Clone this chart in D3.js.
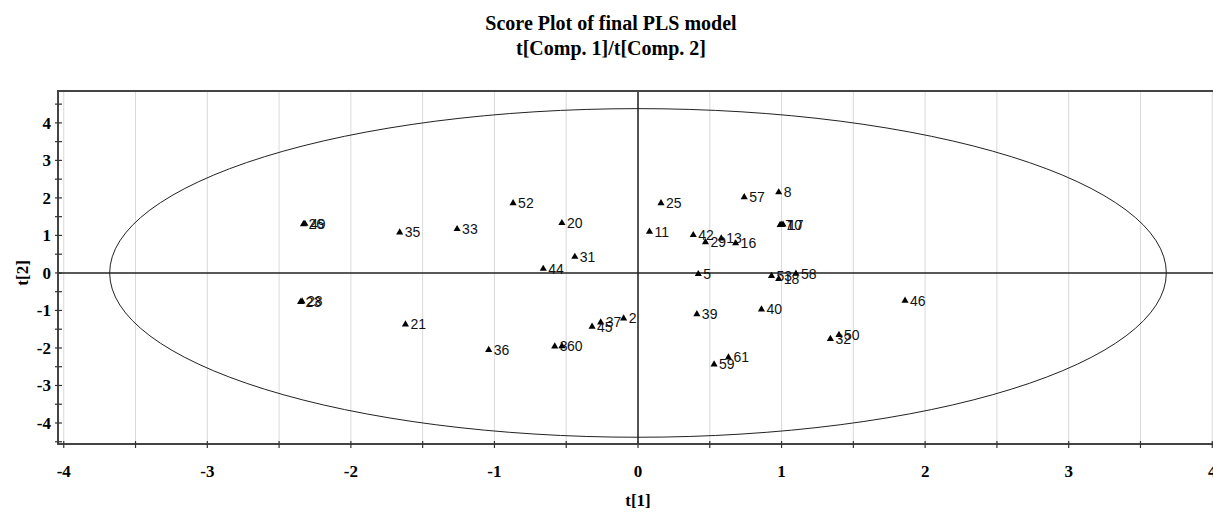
<!DOCTYPE html>
<html><head><meta charset="utf-8">
<script src="https://cdn.jsdelivr.net/npm/d3@7"></script>
<style>body{margin:0;background:#fff}svg{display:block}
.serif{font-family:"Liberation Serif","Times New Roman",serif;font-weight:bold}
.lab{font-family:"Liberation Sans",Arial,sans-serif}</style>
</head><body>
<svg id="c" width="1213" height="515"></svg>
<script>
const labels = ["26","49","35","33","52","20","31","44","23","28","21","36","3","60","45","37","2","25","11","57","8","7","10","17","42","29","13","16","5","53","18","58","39","40","46","32","50","59","61"];
const t1 = [-2.33,-2.32,-1.66,-1.26,-0.87,-0.53,-0.44,-0.66,-2.35,-2.34,-1.62,-1.04,-0.58,-0.53,-0.32,-0.26,-0.10,0.16,0.08,0.74,0.98,0.99,1.00,1.01,0.385,0.47,0.58,0.68,0.42,0.93,0.98,1.10,0.41,0.86,1.86,1.34,1.40,0.53,0.63];
const t2 = [1.30,1.31,1.08,1.17,1.86,1.33,0.43,0.11,-0.77,-0.76,-1.37,-2.05,-1.96,-1.95,-1.43,-1.32,-1.21,1.86,1.10,2.02,2.15,1.28,1.28,1.29,1.01,0.82,0.92,0.79,-0.03,-0.08,-0.16,-0.02,-1.10,-0.97,-0.74,-1.76,-1.65,-2.44,-2.25];
const xTicks = [-4,-3,-2,-1,0,1,2,3,4];
const yTicks = [-4,-3,-2,-1,0,1,2,3,4];
const ellipseR = [3.68, 4.38];

const svg = d3.select("#c");
const L = 58, R = 1218, T = 91, B = 444;
const x = d3.scaleLinear().domain([-4.04, 4.04]).range([L, R]);
const y = d3.scaleLinear().domain([-4.56, 4.85]).range([B, T]);

// grid
const gx = d3.range(-4, 4.01, 0.5);
svg.append("g").selectAll("line").data(gx).join("line")
  .attr("x1", d => x(d)).attr("x2", d => x(d)).attr("y1", T).attr("y2", B)
  .attr("stroke", "#d9d9d9").attr("stroke-width", 1);

// ellipse
svg.append("ellipse").attr("cx", x(0)).attr("cy", y(0))
  .attr("rx", x(ellipseR[0]) - x(0)).attr("ry", y(0) - y(ellipseR[1]))
  .attr("fill", "none").attr("stroke", "#222").attr("stroke-width", 1);

// zero lines
svg.append("line").attr("x1", L).attr("x2", R).attr("y1", y(0)).attr("y2", y(0)).attr("stroke", "#222").attr("stroke-width", 1.5);
svg.append("line").attr("x1", x(0)).attr("x2", x(0)).attr("y1", T).attr("y2", B).attr("stroke", "#222").attr("stroke-width", 1.5);

// frame
svg.append("path").attr("d", `M${R},${T}H${L}V${B}H${R}`).attr("fill", "none").attr("stroke", "#444").attr("stroke-width", 2);

// y ticks
const ym = d3.range(-4.5, 4.51, 0.5);
svg.append("g").selectAll("line").data(ym).join("line")
  .attr("x1", L - 3).attr("x2", L + 4).attr("y1", d => y(d)).attr("y2", d => y(d))
  .attr("stroke", "#333").attr("stroke-width", 1.2);
svg.append("g").selectAll("text").data(yTicks).join("text")
  .attr("class", "serif").attr("font-size", 17)
  .attr("x", 51).attr("y", d => y(d)).attr("dy", "0.35em").attr("text-anchor", "end")
  .text(d => d);
// x ticks
svg.append("g").selectAll("line").data(gx).join("line")
  .attr("x1", d => x(d)).attr("x2", d => x(d)).attr("y1", B - 3).attr("y2", B + 4)
  .attr("stroke", "#333").attr("stroke-width", 1.2);
svg.append("g").selectAll("text").data(xTicks).join("text")
  .attr("class", "serif").attr("font-size", 17)
  .attr("x", d => x(d)).attr("y", 477).attr("text-anchor", "middle")
  .text(d => d);

// axis titles
svg.append("text").attr("class", "serif").attr("font-size", 17)
  .attr("x", x(0)).attr("y", 506).attr("text-anchor", "middle").text("t[1]");
svg.append("text").attr("class", "serif").attr("font-size", 17)
  .attr("transform", `translate(28,${y(0)}) rotate(-90)`).attr("text-anchor", "middle").text("t[2]");

// title
const title = svg.append("text").attr("class", "serif").attr("text-anchor", "middle").attr("font-size", 20);
title.append("tspan").attr("x", 611).attr("y", 30).text("Score Plot of final PLS model");
title.append("tspan").attr("x", 611).attr("y", 55).text("t[Comp. 1]/t[Comp. 2]");

// points
const pts = labels.map((l, i) => ({l, a: t1[i], b: t2[i]}));
const tri = d3.symbol().type(d3.symbolTriangle).size(22);
const pg = svg.append("g");
pg.selectAll("path").data(pts).join("path")
  .attr("d", tri).attr("transform", d => `translate(${x(d.a)},${y(d.b)})`).attr("fill", "#000");
pg.selectAll("text").data(pts).join("text")
  .attr("class", "lab").attr("font-size", 14).attr("fill", "#111")
  .attr("x", d => x(d.a) + 5).attr("y", d => y(d.b) + 5)
  .text(d => d.l);
</script>
</body></html>
